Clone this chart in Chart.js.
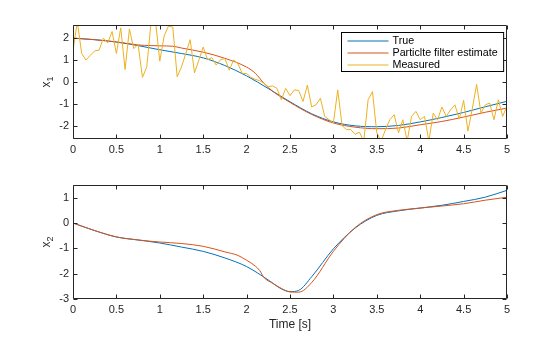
<!DOCTYPE html>
<html>
<head>
<meta charset="utf-8">
<script src="https://cdn.jsdelivr.net/npm/chart.js@4.4.1/dist/chart.umd.min.js"></script>
<style>
  body { margin: 0; background: #fff; }
  #wrap { position: relative; width: 560px; height: 337px; }
  canvas { position: absolute; left: 0; }
</style>
</head>
<body>
<div id="wrap">
  <canvas id="top" width="560" height="168" style="top:0"></canvas>
  <canvas id="bottom" width="560" height="169" style="top:168px"></canvas>
</div>
<script>
// ---- data ----

const xTicks = [0, 0.5, 1, 1.5, 2, 2.5, 3, 3.5, 4, 4.5, 5];
const x1Ticks = [-2, -1, 0, 1, 2];
const x2Ticks = [-3, -2, -1, 0, 1];

// x1 true state
const tX1True = [0, 0.25, 0.5, 0.75, 1, 1.25, 1.5, 1.75, 2, 2.25, 2.5, 2.75, 3, 3.25, 3.5, 3.75, 4, 4.25, 4.5, 4.75, 5];
const x1True = [2.0, 1.93, 1.82, 1.66, 1.47, 1.3, 1.1, 0.75, 0.28, -0.3, -0.9, -1.45, -1.82, -2.0, -2.04, -1.98, -1.82, -1.62, -1.39, -1.13, -0.88];

// x1 particle filter estimate
const tX1Est = [0, 0.25, 0.5, 0.75, 0.9, 1, 1.15, 1.25, 1.5, 1.75, 2, 2.1, 2.2, 2.3, 2.5, 2.75, 3, 3.25, 3.5, 3.75, 4, 4.25, 4.5, 4.75, 5];
const x1Est = [2.0, 1.93, 1.83, 1.69, 1.66, 1.65, 1.63, 1.55, 1.36, 1.08, 0.68, 0.4, -0.06, -0.42, -0.93, -1.48, -1.87, -2.06, -2.13, -2.1, -1.95, -1.8, -1.6, -1.38, -1.19];

// x1 measured, one sample every 0.05 s
const x1Measured = [
  1.44, 2.75, 1.3, 1.0, 1.22, 1.42, 1.45, 2.0, 1.78, 2.3,
  1.3, 2.47, 0.57, 2.42, 1.52, 1.72, 0.21, 0.69, 2.75, 2.8,
  0.95, 2.1, 2.55, 2.5, 0.24, 0.69, 1.3, 1.93, 0.42, 1.0,
  1.6, 1.02, 1.11, 0.77, 1.02, 1.07, 0.54, 1.0, 0.84, 0.39,
  0.39, 0.21, 0.12, 0.06, -0.06, -0.21, -0.18, -0.29, -0.81, -0.29,
  -0.62, -0.36, -0.39, -0.89, -0.14, -1.14, -1.04, -0.74, -1.57, -1.72,
  -1.87, -0.36, -1.99, -2.17, -2.17, -2.39, -2.29, -2.7, -0.81, -0.44,
  -2.32, -2.7, -2.17, -1.72, -1.49, -2.32, -1.72, -2.7, -1.57, -1.34,
  -1.72, -1.57, -2.7, -1.42, -1.72, -1.14, -1.57, -1.27, -1.04, -1.69,
  -0.84, -2.24, -1.23, -0.11, -1.42, -1.04, -0.96, -1.72, -0.81, -1.57,
  -1.1
];
const sampleTime = 0.05;

// x2 true state
const tX2True = [0, 0.25, 0.5, 0.75, 1, 1.25, 1.5, 1.75, 2, 2.25, 2.4, 2.5, 2.6, 2.75, 3, 3.25, 3.5, 3.75, 4, 4.25, 4.5, 4.75, 5];
const x2True = [0, -0.3, -0.55, -0.67, -0.79, -0.95, -1.12, -1.38, -1.72, -2.25, -2.6, -2.71, -2.66, -2.12, -1.02, -0.2, 0.3, 0.48, 0.59, 0.7, 0.85, 1.02, 1.29];

// x2 particle filter estimate
const tX2Est = [0, 0.25, 0.5, 0.75, 1, 1.25, 1.5, 1.75, 1.9, 2, 2.1, 2.15, 2.2, 2.3, 2.4, 2.5, 2.6, 2.75, 3, 3.25, 3.5, 3.75, 4, 4.25, 4.5, 4.75, 5];
const x2Est = [0, -0.3, -0.55, -0.67, -0.75, -0.81, -0.92, -1.14, -1.28, -1.47, -1.7, -1.87, -2.15, -2.38, -2.58, -2.72, -2.73, -2.35, -1.12, -0.18, 0.33, 0.5, 0.59, 0.67, 0.76, 0.9, 1.02];

// ---- styling ----

const BLUE = "#0072BD";
const ORANGE = "#D95319";
const YELLOW = "#EDB120";
const AXIS = "#262626";
const FONT = "'Liberation Sans', Arial, Helvetica, sans-serif";

Chart.defaults.font.family = FONT;
Chart.defaults.color = AXIS;
Chart.defaults.animation = false;

const pts = (ts, vs) => ts.map((t, i) => ({ x: t, y: vs[i] }));

// box around the axes with inward ticks on all four sides
const frame = {
  id: "frame",
  afterDatasetsDraw(chart) {
    const { ctx, chartArea: a, scales } = chart;
    const L = Math.round(a.left) + 0.5;
    const R = Math.round(a.right) - 0.5;
    const T = Math.round(a.top) + 0.5;
    const B = Math.round(a.bottom) - 0.5;
    ctx.save();
    ctx.strokeStyle = AXIS;
    ctx.lineWidth = 1;
    ctx.beginPath();
    scales.x.ticks.forEach((t) => {
      const px = Math.round(scales.x.getPixelForValue(t.value)) + 0.5;
      ctx.moveTo(px, B); ctx.lineTo(px, B - 4);
      ctx.moveTo(px, T); ctx.lineTo(px, T + 4);
    });
    scales.y.ticks.forEach((t) => {
      const py = Math.round(scales.y.getPixelForValue(t.value)) + 0.5;
      ctx.moveTo(L, py); ctx.lineTo(L + 4, py);
      ctx.moveTo(R, py); ctx.lineTo(R - 4, py);
    });
    ctx.rect(L, T, R - L, B - T);
    ctx.stroke();

    // y label with subscript
    const opt = chart.options.plugins.frame;
    ctx.fillStyle = AXIS;
    ctx.translate(47, (a.top + a.bottom) / 2);
    ctx.rotate(-Math.PI / 2);
    ctx.font = "12px " + FONT;
    const wx = ctx.measureText("x").width;
    ctx.font = "9px " + FONT;
    const ws = ctx.measureText(opt.sub).width;
    const x0 = -(wx + ws) / 2;
    ctx.textBaseline = "middle";
    ctx.font = "12px " + FONT;
    ctx.fillText("x", x0, 0);
    ctx.font = "9px " + FONT;
    ctx.fillText(opt.sub, x0 + wx, 4);
    ctx.restore();

    if (opt.xTitle) {
      ctx.save();
      ctx.fillStyle = AXIS;
      ctx.font = "12px " + FONT;
      ctx.textAlign = "center";
      ctx.textBaseline = "middle";
      ctx.fillText(opt.xTitle, (a.left + a.right) / 2, a.bottom + 26);
      ctx.restore();
    }
  }
};

// legend box inside the top axes, north-east
const boxLegend = {
  id: "boxLegend",
  afterDatasetsDraw(chart) {
    if (!chart.options.plugins.boxLegend.show) return;
    const { ctx, chartArea: a } = chart;
    const sets = chart.data.datasets;
    ctx.save();
    ctx.font = "10.7px " + FONT;
    const tw = Math.max(...sets.map((d) => ctx.measureText(d.label).width));
    const w = 6 + 41 + 4 + tw + 6;
    const h = 39;
    const x = Math.round(a.right - 4 - w) + 0.5;
    const y = Math.round(a.top + 7) + 0.5;
    ctx.fillStyle = "#fff";
    ctx.fillRect(x, y, w, h);
    ctx.strokeStyle = "#000";
    ctx.lineWidth = 1;
    ctx.strokeRect(x, y, w, h);
    sets.forEach((d, i) => {
      const cy = y + 8.5 + i * 12;
      ctx.strokeStyle = d.borderColor;
      ctx.beginPath();
      ctx.moveTo(x + 6, cy);
      ctx.lineTo(x + 47, cy);
      ctx.stroke();
      ctx.fillStyle = "#000";
      ctx.textBaseline = "middle";
      ctx.fillText(d.label, x + 51, cy);
    });
    ctx.restore();
  }
};

function makeOptions(yMin, yMax, yTicks, sub, xTitle, xAxisHeight, padTop, legend) {
  return {
    responsive: false,
    devicePixelRatio: 1,
    layout: { padding: { left: 0, right: 53, top: padTop, bottom: 0 } },
    elements: { point: { radius: 0 }, line: { borderWidth: 1 } },
    plugins: {
      legend: { display: false },
      tooltip: { enabled: false },
      frame: { sub, xTitle },
      boxLegend: { show: legend }
    },
    scales: {
      x: {
        type: "linear",
        min: 0,
        max: 5,
        afterBuildTicks: (s) => { s.ticks = xTicks.map((v) => ({ value: v })); },
        afterFit: (s) => { s.height = xAxisHeight; },
        grid: { drawOnChartArea: false, drawTicks: false },
        border: { display: false },
        ticks: { font: { size: 11 }, padding: 4, maxRotation: 0, callback: (v) => String(v) }
      },
      y: {
        min: yMin,
        max: yMax,
        afterBuildTicks: (s) => { s.ticks = yTicks.map((v) => ({ value: v })); },
        afterFit: (s) => { s.width = 73; },
        grid: { drawOnChartArea: false, drawTicks: false },
        border: { display: false },
        ticks: { font: { size: 11 }, padding: 4, callback: (v) => String(v) }
      }
    }
  };
}

new Chart(document.getElementById("top"), {
  type: "line",
  data: {
    datasets: [
      { label: "True", data: pts(tX1True, x1True), borderColor: BLUE, cubicInterpolationMode: "monotone", order: 3, clip: 0 },
      { label: "Particlte filter estimate", data: pts(tX1Est, x1Est), borderColor: ORANGE, cubicInterpolationMode: "monotone", order: 2, clip: 0 },
      { label: "Measured", data: x1Measured.map((v, i) => ({ x: i * sampleTime, y: v })), borderColor: YELLOW, tension: 0, order: 1, clip: 0 }
    ]
  },
  options: makeOptions(-2.6, 2.6, x1Ticks, "1", null, 29, 25, true),
  plugins: [frame, boxLegend]
});

new Chart(document.getElementById("bottom"), {
  type: "line",
  data: {
    datasets: [
      { label: "True", data: pts(tX2True, x2True), borderColor: BLUE, cubicInterpolationMode: "monotone", order: 2, clip: 0 },
      { label: "Particlte filter estimate", data: pts(tX2Est, x2Est), borderColor: ORANGE, cubicInterpolationMode: "monotone", order: 1, clip: 0 }
    ]
  },
  options: makeOptions(-3, 1.5, x2Ticks, "2", "Time [s]", 38, 17, false),
  plugins: [frame, boxLegend]
});
</script>
</body>
</html>
